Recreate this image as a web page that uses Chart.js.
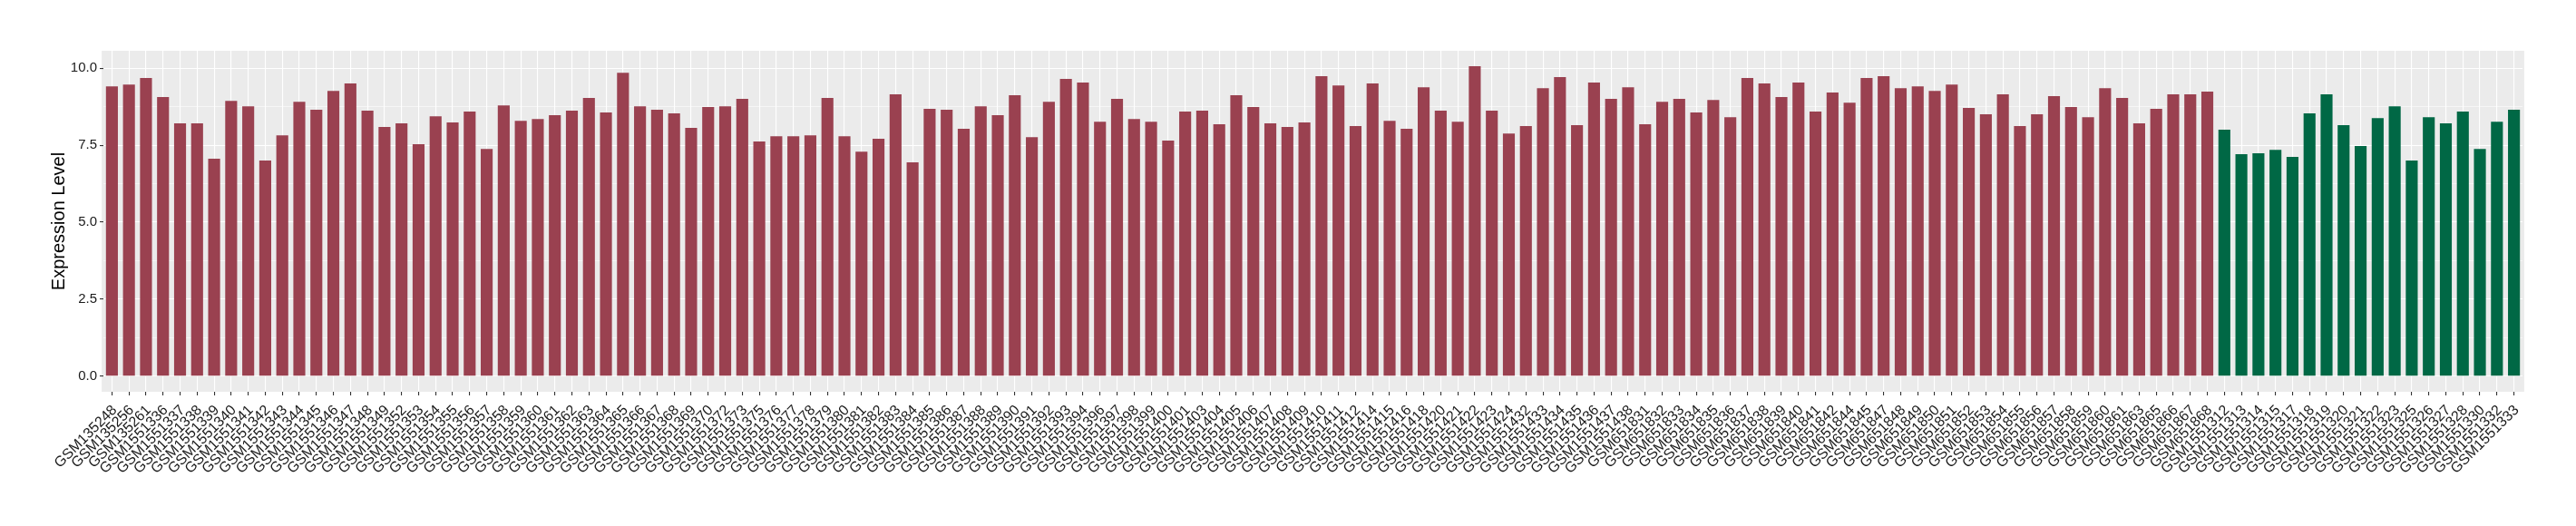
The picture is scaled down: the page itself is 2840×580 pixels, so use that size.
<!DOCTYPE html>
<html>
<head>
<meta charset="utf-8">
<script src="https://cdn.jsdelivr.net/npm/chart.js@4"></script>
<style>
  html, body { margin: 0; padding: 0; background: #FFFFFF; }
  #wrap { width: 2840px; height: 580px; }
</style>
</head>
<body>
<div id="wrap"><canvas id="expression" width="2840" height="580"></canvas></div>
<script>
const group1Samples = [
  'GSM135248','GSM135256','GSM135261',
  'GSM1551336','GSM1551337','GSM1551338','GSM1551339','GSM1551340','GSM1551341','GSM1551342','GSM1551343','GSM1551344','GSM1551345','GSM1551346','GSM1551347','GSM1551348','GSM1551349',
  'GSM1551352','GSM1551353','GSM1551354','GSM1551355','GSM1551356','GSM1551357','GSM1551358','GSM1551359','GSM1551360','GSM1551361','GSM1551362','GSM1551363','GSM1551364','GSM1551365','GSM1551366','GSM1551367','GSM1551368','GSM1551369','GSM1551370',
  'GSM1551372','GSM1551373','GSM1551375','GSM1551376','GSM1551377','GSM1551378','GSM1551379','GSM1551380','GSM1551381','GSM1551382','GSM1551383','GSM1551384','GSM1551385','GSM1551386','GSM1551387','GSM1551388','GSM1551389','GSM1551390','GSM1551391','GSM1551392','GSM1551393','GSM1551394',
  'GSM1551396','GSM1551397','GSM1551398','GSM1551399',
  'GSM1551400','GSM1551401','GSM1551403','GSM1551404','GSM1551405','GSM1551406','GSM1551407','GSM1551408','GSM1551409','GSM1551410','GSM1551411','GSM1551412',
  'GSM1551414','GSM1551415','GSM1551416','GSM1551418','GSM1551420','GSM1551421','GSM1551422','GSM1551423','GSM1551424',
  'GSM1551432','GSM1551433','GSM1551434','GSM1551435','GSM1551436','GSM1551437','GSM1551438',
  'GSM651831','GSM651832','GSM651833','GSM651834','GSM651835','GSM651836','GSM651837','GSM651838','GSM651839','GSM651840','GSM651841','GSM651842',
  'GSM651844','GSM651845','GSM651847','GSM651848','GSM651849','GSM651850','GSM651851','GSM651852','GSM651853','GSM651854','GSM651855','GSM651856','GSM651857','GSM651858','GSM651859','GSM651860','GSM651861',
  'GSM651863','GSM651865','GSM651866','GSM651867','GSM651868'
];
const group1Values = [
  9.41, 9.47, 9.68, 9.06, 8.21, 8.21, 7.06, 8.94, 8.76, 7.00, 7.82, 8.91, 8.65, 9.26, 9.50, 8.62, 8.09, 8.21, 7.53, 8.44, 8.24, 8.59, 7.38, 8.79,
  8.29, 8.35, 8.47, 8.62, 9.03, 8.56, 9.85, 8.76, 8.65, 8.53, 8.06, 8.74, 8.76, 9.00, 7.62, 7.79, 7.79, 7.82, 9.03, 7.79, 7.29, 7.71, 9.15, 6.94,
  8.68, 8.65, 8.03, 8.76, 8.47, 9.12, 7.76, 8.91, 9.65, 9.53, 8.26, 9.00, 8.35, 8.26, 7.65, 8.59, 8.62, 8.18, 9.12, 8.74, 8.21, 8.09, 8.24, 9.74,
  9.44, 8.12, 9.50, 8.29, 8.03, 9.38, 8.62, 8.26, 10.06, 8.62, 7.88, 8.12, 9.35, 9.71, 8.15, 9.53, 9.00, 9.38, 8.18, 8.91, 9.00, 8.56, 8.97, 8.41,
  9.68, 9.50, 9.06, 9.53, 8.59, 9.21, 8.88, 9.68, 9.74, 9.35, 9.41, 9.26, 9.47, 8.71, 8.50, 9.15, 8.12, 8.50, 9.09, 8.74, 8.41, 9.35, 9.03, 8.21,
  8.68, 9.15, 9.15, 9.24
];
const group2Samples = [
  'GSM1551312','GSM1551313','GSM1551314','GSM1551315','GSM1551317','GSM1551318','GSM1551319','GSM1551320','GSM1551321',
  'GSM1551322','GSM1551323','GSM1551325','GSM1551326','GSM1551327','GSM1551328','GSM1551330','GSM1551332','GSM1551333'
];
const group2Values = [
  8.00, 7.21, 7.24, 7.35, 7.12, 8.53, 9.15, 8.15, 7.47, 8.38, 8.76, 7.00, 8.41, 8.21, 8.59, 7.38, 8.26, 8.65
];
const yTicks = [0, 2.5, 5, 7.5, 10];

const group1Color = '#9A4150';
const group2Color = '#006845';

loadExpressionChart()

function loadExpressionChart(){
  const labels = group1Samples.concat(group2Samples);
  const values = group1Values.concat(group2Values);
  const colors = group1Values.map(() => group1Color).concat(group2Values.map(() => group2Color));

  // ggplot style: 5% expansion on both ends, minor breaks halfway
  const top = Math.max(...values);
  const pad = top * 0.05;
  const tickValues = [];
  for (let i = 0; i < yTicks.length; i++) {
    tickValues.push(yTicks[i]);
    if (i < yTicks.length - 1) tickValues.push((yTicks[i] + yTicks[i + 1]) / 2);
  }
  const isMajor = v => yTicks.includes(v);

  // grey panel, a little wider than the bar area (discrete axis expands 0.6 not 0.5)
  const panelBackground = {
    id: 'panelBackground',
    beforeDraw(chart) {
      const {ctx, chartArea} = chart;
      const extra = 0.1 * (chartArea.right - chartArea.left) / labels.length;
      ctx.save();
      ctx.fillStyle = '#EBEBEB';
      ctx.fillRect(chartArea.left - extra, chartArea.top, chartArea.right - chartArea.left + 2 * extra, chartArea.bottom - chartArea.top);
      ctx.restore();
    }
  };

  const data = {
    labels: labels,
    datasets: [{
      label: 'Expression Level',
      data: values,
      backgroundColor: colors,
      borderWidth: 0,
      barPercentage: 0.7,
      categoryPercentage: 1.0
    }]
  };

  const config = {
    type: 'bar',
    data: data,
    options: {
      responsive: false,
      animation: false,
      devicePixelRatio: 1,
      layout: {
        padding: { top: 56, right: 59, bottom: 0, left: 0 }
      },
      plugins: {
        legend: { display: false },
        tooltip: { enabled: false }
      },
      scales: {
        x: {
          offset: true,
          border: { display: false },
          grid: {
            offset: false,
            color: '#FFFFFF',
            lineWidth: 1.1,
            tickColor: '#333333',
            tickLength: 4
          },
          ticks: {
            autoSkip: false,
            minRotation: 45,
            maxRotation: 45,
            padding: 7,
            labelOffset: 3,
            color: '#1A1A1A',
            font: { family: 'Liberation Sans, Arial, sans-serif', size: 16 }
          },
          afterFit(scale) { scale.height = 148; }
        },
        y: {
          min: -pad,
          max: top + pad,
          border: { display: false },
          afterBuildTicks(scale) {
            scale.ticks = tickValues.map(v => ({ value: v }));
          },
          grid: {
            color: '#FFFFFF',
            lineWidth: ctx => isMajor(ctx.tick.value) ? 1.1 : 0.55,
            tickColor: ctx => isMajor(ctx.tick.value) ? '#333333' : 'rgba(0,0,0,0)',
            tickLength: 4
          },
          ticks: {
            autoSkip: false,
            padding: 3,
            color: '#1A1A1A',
            font: { family: 'Liberation Sans, Arial, sans-serif', size: 15 },
            callback: v => isMajor(v) ? v.toFixed(1) : ''
          },
          title: {
            display: true,
            text: 'Expression Level',
            color: '#000000',
            padding: { top: 53, bottom: 0 },
            font: { family: 'Liberation Sans, Arial, sans-serif', size: 20 }
          },
          afterFit(scale) { scale.width = 114; }
        }
      }
    },
    plugins: [panelBackground]
  };

  const expressionChart = new Chart(
    document.getElementById('expression'),
    config
  );
}
</script>
</body>
</html>
